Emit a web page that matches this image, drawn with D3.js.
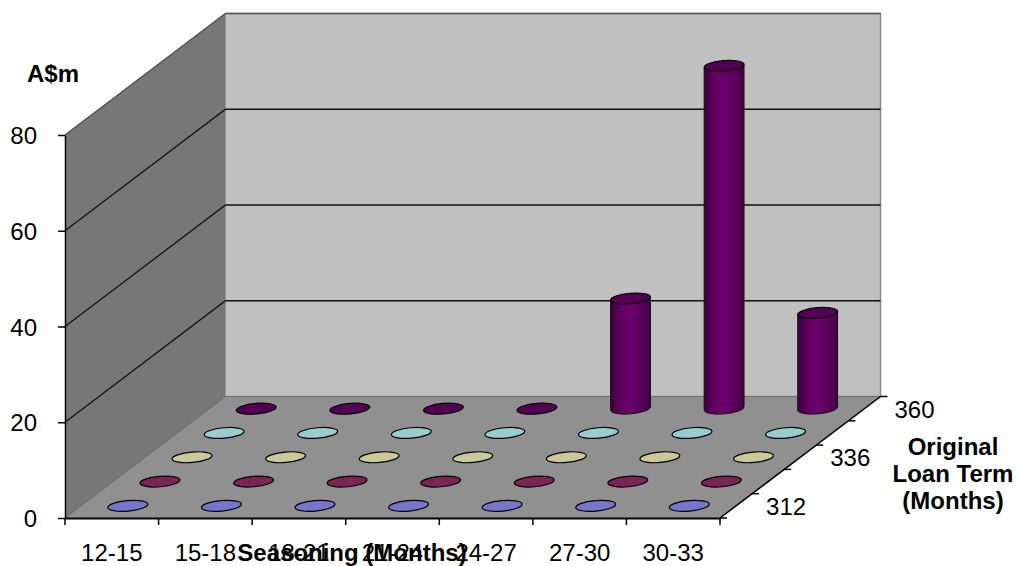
<!DOCTYPE html>
<html>
<head>
<meta charset="utf-8">
<style>
  html, body { margin: 0; padding: 0; background: #fff; }
  svg { display: block; }
  text { font-family: "Liberation Sans", Arial, sans-serif; fill: #000; }
  .tick-label { font-size: 24px; }
  .title { font-size: 24px; font-weight: bold; }
</style>
<script src="https://cdn.jsdelivr.net/npm/d3@7"></script>
</head>
<body>
<svg width="1016" height="566"></svg>
<script>
var categories = ["12-15", "15-18", "18-21", "21-24", "24-27", "27-30", "30-33"];
var terms = [312, 324, 336, 348, 360];
var termLabels = [312, 336, 360];
var yTicks = [0, 20, 40, 60, 80];

var term312 = [0, 0, 0, 0, 0, 0, 0];
var term324 = [0, 0, 0, 0, 0, 0, 0];
var term336 = [0, 0, 0, 0, 0, 0, 0];
var term348 = [0, 0, 0, 0, 0, 0, 0];
var term360 = [0, 0, 0, 0, 23, 71.6, 20];

var rows = [term312, term324, term336, term348, term360];
var topColors = ["#7676cc", "#7b2552", "#c9c99b", "#99cccc", "#540054"];

var left = 65, right = 720, floorY = 518, topY = 135;
var depthX = 160.5, depthY = 121.5;
var rx = 20, ry = 5.2, tilt = -5;

var svg = d3.select("svg");

var x = d3.scaleBand().domain(categories).range([left, right]);
var y = d3.scaleLinear().domain([0, 80]).range([floorY, topY]);
var z = d3.scaleBand().domain(terms).range([0, 1]);

// shift a front-plane point back to a given depth (0 to 1)
function back(d) {
  return [depthX * d, -depthY * d];
}

var line = d3.line();
var full = back(1);

// walls and floor
svg.append("path")
  .attr("d", line([[left, y(80)], [left + full[0], y(80) + full[1]], [left + full[0], y(0) + full[1]], [left, y(0)]]))
  .attr("fill", "#777777").attr("stroke", "#666666");
svg.append("path")
  .attr("d", line([[left + full[0], y(80) + full[1]], [right + full[0], y(80) + full[1]], [right + full[0], y(0) + full[1]], [left + full[0], y(0) + full[1]]]))
  .attr("fill", "#c0c0c0").attr("stroke", "#8a8a8a").attr("stroke-width", 1.5);
svg.append("path")
  .attr("d", line([[left, y(0)], [left + full[0], y(0) + full[1]], [right + full[0], y(0) + full[1]], [right, y(0)]]))
  .attr("fill", "#909090").attr("stroke", "#6e6e6e");

// gridlines
svg.append("g").selectAll("path")
  .data(yTicks.slice(1))
  .enter().append("path")
  .attr("d", function (t) {
    return line([[left, y(t)], [left + full[0], y(t) + full[1]], [right + full[0], y(t) + full[1]]]);
  })
  .attr("fill", "none")
  .attr("stroke", function (t) { return t === 80 ? "#555" : "#111"; })
  .attr("stroke-width", 1.3);

// y axis
var yAxis = svg.append("g")
  .attr("transform", "translate(" + left + ",0)")
  .call(d3.axisLeft(y).tickValues(yTicks).tickSize(7).tickPadding(21).tickSizeOuter(0));
yAxis.selectAll("text").attr("class", "tick-label").attr("dy", "0.36em");
yAxis.selectAll("line,path").attr("stroke", "#000").attr("stroke-width", 1.5);

// x axis labels on band centres, ticks on band edges
var xAxis = svg.append("g")
  .attr("transform", "translate(0," + floorY + ")")
  .call(d3.axisBottom(x).tickSize(0).tickPadding(26).tickSizeOuter(0));
xAxis.selectAll("text").attr("class", "tick-label");
xAxis.select(".domain").attr("stroke", "#000").attr("stroke-width", 2);
xAxis.selectAll(".edge")
  .data(d3.range(categories.length + 1))
  .enter().append("line")
  .attr("class", "edge")
  .attr("x1", function (i) { return left + i * x.step(); })
  .attr("x2", function (i) { return left + i * x.step(); })
  .attr("y1", 0).attr("y2", 7)
  .attr("stroke", "#000").attr("stroke-width", 1.5);

// depth axis
svg.append("path")
  .attr("d", line([[right, floorY], [right + full[0], floorY + full[1]]]))
  .attr("stroke", "#000").attr("stroke-width", 1.5);
svg.append("g").selectAll("line")
  .data(d3.range(terms.length + 1))
  .enter().append("line")
  .attr("x1", function (i) { return right + back(i * z.step())[0]; })
  .attr("x2", function (i) { return right + back(i * z.step())[0] + 7; })
  .attr("y1", function (i) { return floorY + back(i * z.step())[1]; })
  .attr("y2", function (i) { return floorY + back(i * z.step())[1]; })
  .attr("stroke", "#000").attr("stroke-width", 1.5);
svg.append("g").selectAll("text")
  .data(termLabels)
  .enter().append("text")
  .attr("class", "tick-label")
  .attr("x", function (t) { return right + back(z(t) + z.bandwidth() / 2)[0] + 30; })
  .attr("y", function (t) { return floorY + back(z(t) + z.bandwidth() / 2)[1] + 9; })
  .text(function (t) { return t; });

// cylinder shading
var grad = svg.append("defs").append("linearGradient").attr("id", "cyl");
grad.append("stop").attr("offset", "0%").attr("stop-color", "#3c003c");
grad.append("stop").attr("offset", "25%").attr("stop-color", "#600060");
grad.append("stop").attr("offset", "50%").attr("stop-color", "#6c006c");
grad.append("stop").attr("offset", "100%").attr("stop-color", "#480048");

var ex = rx * Math.cos(tilt * Math.PI / 180);
var ey = rx * Math.sin(tilt * Math.PI / 180);

// columns, back row first
var marks = [];
rows.forEach(function (row, r) {
  row.forEach(function (v, c) {
    var off = back(z(terms[r]) + z.bandwidth() / 2);
    marks.push({
      cx: x(categories[c]) + x.bandwidth() / 2 + off[0],
      base: y(0) + off[1],
      top: y(v) + off[1],
      v: v,
      row: r
    });
  });
});
marks.sort(function (a, b) { return b.row - a.row; });

var col = svg.append("g").selectAll("g")
  .data(marks)
  .enter().append("g");

col.filter(function (d) { return d.v > 0; })
  .append("path")
  .attr("d", function (d) {
    return "M" + (d.cx - ex) + "," + (d.top - ey) +
      "L" + (d.cx - ex) + "," + (d.base - ey) +
      "A" + rx + "," + ry + " " + tilt + " 0 0 " + (d.cx + ex) + "," + (d.base + ey) +
      "L" + (d.cx + ex) + "," + (d.top + ey) + "Z";
  })
  .attr("fill", "url(#cyl)")
  .attr("stroke", "#111")
  .attr("stroke-width", 1);

col.append("ellipse")
  .attr("rx", rx).attr("ry", ry)
  .attr("transform", function (d) { return "translate(" + d.cx + "," + d.top + ") rotate(" + tilt + ")"; })
  .attr("fill", function (d) { return topColors[d.row]; })
  .attr("stroke", "#000")
  .attr("stroke-width", 1.2);

// titles
svg.append("text").attr("class", "title").attr("x", 27).attr("y", 82).text("A$m");
svg.append("text").attr("class", "title").attr("x", 352).attr("y", 561)
  .attr("text-anchor", "middle").text("Seasoning (Months)");
svg.append("text").attr("class", "title")
  .attr("text-anchor", "middle")
  .selectAll("tspan")
  .data(["Original", "Loan Term", "(Months)"])
  .enter().append("tspan")
  .attr("x", 953)
  .attr("y", function (d, i) { return 455 + i * 27; })
  .text(function (d) { return d; });
</script>
</body>
</html>
